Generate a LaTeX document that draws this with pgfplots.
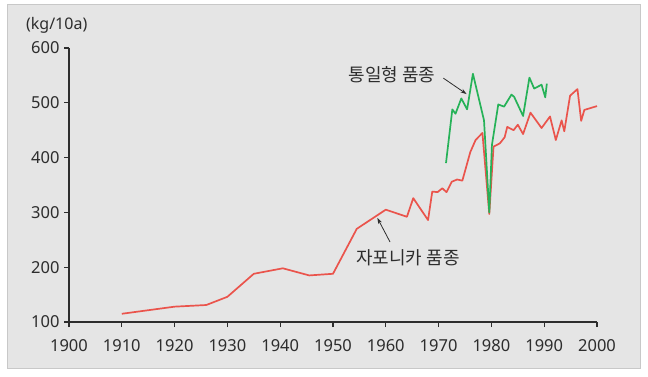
\documentclass[border=0pt]{standalone}
\usepackage{pgfplots}
\pgfplotsset{compat=1.18}
\usepackage{fontspec}
\setmainfont{Noto Sans}
\newfontfamily\kr{Noto Sans CJK KR}
\usetikzlibrary{arrows.meta}
\definecolor{bggray}{RGB}{229,229,229}
\definecolor{bordergray}{RGB}{200,200,200}
\definecolor{txtgray}{RGB}{45,45,45}
\definecolor{jred}{RGB}{234,84,76}
\definecolor{tgreen}{RGB}{38,178,88}
\begin{document}
\begin{tikzpicture}[x=1pt,y=1pt]
\useasboundingbox (0,0) rectangle (648,376);
\fill[white] (0,0) rectangle (648,376);
\draw[fill=bggray, draw=bordergray, line width=1pt] (7,8) rectangle (640,371);
\node[text=txtgray, font=\fontsize{16}{18}\selectfont] at (56.7,351) {(kg/10a)};
\begin{axis}[
  at={(69pt,54pt)}, anchor=south west,
  scale only axis, width=528pt, height=274pt,
  xmin=1900, xmax=2000, ymin=100, ymax=600,
  axis lines=left,
  axis line style={-, line width=1.1pt, txtgray},
  xtick={1900,1910,...,2000},
  ytick={100,200,...,600},
  tick align=outside,
  major tick length=5pt,
  tick style={line width=1.1pt, txtgray},
  /pgf/number format/1000 sep={},
  /pgf/number format/assume math mode=true,
  ticklabel style={font=\fontsize{16.5}{18}\selectfont, text=txtgray},
  xticklabel style={yshift=-9pt},
  yticklabel style={xshift=-1pt},
  clip=false,
]
\addplot[jred, line width=1.7pt, line join=round] coordinates {
(1910,115) (1920,128) (1926,131) (1930,146) (1935,188) (1940.5,198)
(1945.5,185) (1950,188) (1954.5,270) (1960,305) (1964,292) (1965.2,326)
(1968,286) (1968.8,338) (1969.8,337) (1970.7,344) (1971.5,337) (1972.5,356)
(1973.5,360) (1974.5,358) (1976,410) (1977,432) (1978.3,445) (1979.6,297)
(1980.4,420) (1981.6,426) (1982.5,437) (1983,456) (1984.2,450) (1985,460)
(1986,443) (1987.4,482) (1989.5,454) (1991.1,475) (1992.2,432) (1993.3,468)
(1993.8,448) (1994.9,513) (1996.3,525) (1997,467) (1997.6,487) (2000,494)
};
\addplot[tgreen, line width=1.7pt, line join=round] coordinates {
(1971.4,390) (1972.6,488) (1973.2,480) (1974.3,508) (1975.4,488) (1976.5,553)
(1978.6,468) (1979.6,300) (1980.1,423) (1981.3,497) (1982.4,493) (1983.8,515)
(1984.3,511) (1986,476) (1987.2,546) (1988.1,526) (1989.5,533) (1990.2,510)
(1990.5,535)
};
\draw[-{Stealth[length=6pt,width=4pt]}, line width=0.8pt, txtgray] (axis cs:1970.9,545) -- (axis cs:1975.3,516);
\node[text=txtgray, font=\kr\fontsize{18}{20}\selectfont] at (axis cs:1961.2,551) {통일형 품종};
\draw[-{Stealth[length=6pt,width=4pt]}, line width=0.8pt, txtgray] (axis cs:1960.8,246) -- (axis cs:1958.4,290);
\node[text=txtgray, font=\kr\fontsize{18}{20}\selectfont] at (axis cs:1964.2,217) {자포니카 품종};
\end{axis}
\end{tikzpicture}
\end{document}
